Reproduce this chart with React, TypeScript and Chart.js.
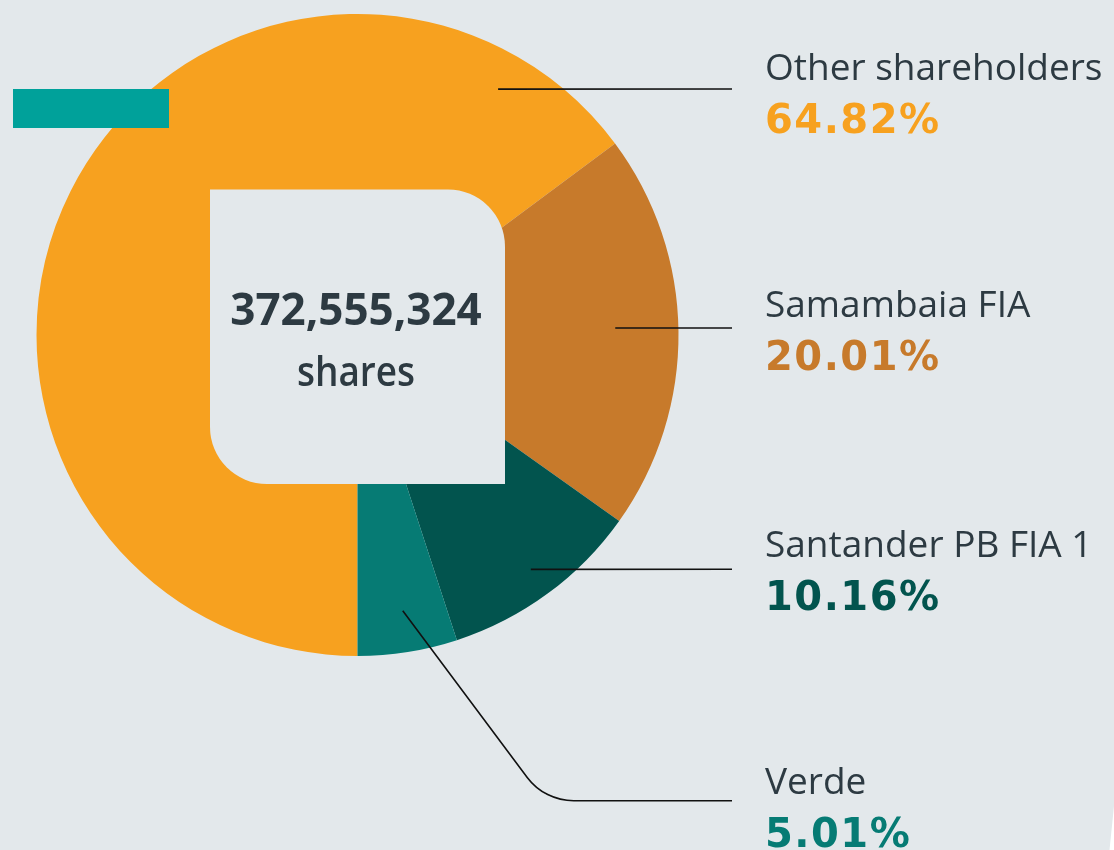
import React, { useEffect, useRef } from "react";
import { Chart, registerables } from "chart.js";

Chart.register(...registerables);

const categories = ["Other shareholders", "Samambaia FIA", "Santander PB FIA 1", "Verde"];
const sharePct = [64.82, 20.01, 10.16, 5.01];
const sliceColors = ["#f7a11f", "#c77a2b", "#02544e", "#067b74"];
const totalShares = "372,555,324";
const totalUnit = "shares";

const BG = "#e3e8eb";
const TEXT = "#2d3a42";

// label layout (name baseline, percent baseline)
const nameBaselines = [79.5, 317, 557, 793.5];
const pctBaselines = [132.7, 370, 610, 847];
// leader anchors as fractions of radius from pie centre, and the y of the horizontal run
const anchorFx = [0.438, 0.803, 0.54, 0.141];
const anchorFy = [-0.766, -0.022, 0.73, 0.859];
const lineY = [89, 328, 569.3, 800.7];

const decorPlugin = {
  id: "decor",
  afterDatasetsDraw(chart: any) {
    const ctx = chart.ctx;
    const arc = chart.getDatasetMeta(0).data[0];
    const cx = arc.x;
    const cy = arc.y;
    const R = arc.outerRadius;
    ctx.save();
    // centre rounded square
    ctx.fillStyle = BG;
    ctx.beginPath();
    (ctx as any).roundRect(cx - 147.5, cy - 145.5, 295, 294.5, [0, 57, 0, 57]);
    ctx.fill();
    // leader lines
    ctx.strokeStyle = "#111111";
    ctx.lineWidth = 1.6;
    const endX = 732;
    for (let i = 0; i < categories.length; i++) {
      const sx = cx + anchorFx[i] * R;
      const sy = cy + anchorFy[i] * R;
      ctx.beginPath();
      ctx.moveTo(sx, sy);
      if (Math.abs(sy - lineY[i]) < 3) {
        ctx.lineTo(endX, lineY[i]);
      } else {
        const slope = (770 - sy) / (521.7 - sx);
        const cornerX = sx + (lineY[i] - sy) / slope;
        ctx.arcTo(cornerX, lineY[i], endX, lineY[i], 58);
        ctx.lineTo(endX, lineY[i]);
      }
      ctx.stroke();
    }
    // white page corner sliver
    ctx.fillStyle = "#ffffff";
    ctx.beginPath();
    ctx.moveTo(1114, 806);
    ctx.lineTo(1109.5, 850);
    ctx.lineTo(1114, 850);
    ctx.closePath();
    ctx.fill();
    ctx.restore();
  },
};

function Txt(props: {
  x: number;
  base: number;
  size: number;
  family: string;
  weight: number;
  color: string;
  k: number;
  center?: boolean;
  ls?: number;
  sx?: number;
  children: any;
}) {
  const { x, base, size, family, weight, color, k, center, ls, sx, children } = props;
  return (
    <div
      style={{
        position: "absolute",
        left: x,
        top: base - k * size,
        fontFamily: family,
        fontWeight: weight,
        fontSize: size,
        lineHeight: "1",
        color,
        whiteSpace: "nowrap",
        letterSpacing: ls ? ls + "px" : undefined,
        transform: center ? `translateX(-50%) scaleX(${sx ?? 1})` : undefined,
        transformOrigin: "center",
      }}
    >
      {children}
    </div>
  );
}

export default function App() {
  const ref = useRef<HTMLCanvasElement | null>(null);
  useEffect(() => {
    document.body.style.margin = "0";
    const chart = new Chart(ref.current as HTMLCanvasElement, {
      type: "pie",
      data: {
        labels: categories,
        datasets: [
          {
            data: sharePct,
            backgroundColor: sliceColors,
            borderWidth: 0,
          },
        ],
      },
      options: {
        responsive: false,
        animation: false,
        devicePixelRatio: 1,
        rotation: 180,
        layout: { padding: { left: 36.5, right: 435.5, top: 14, bottom: 194 } },
        plugins: { legend: { display: false }, tooltip: { enabled: false } },
        events: [],
      },
      plugins: [decorPlugin],
    } as any);
    return () => chart.destroy();
  }, []);

  const OS = "'Open Sans', 'Noto Sans', sans-serif";
  const DJ = "'DejaVu Sans', Verdana, sans-serif";

  return (
    <div style={{ position: "fixed", left: 0, top: 0, width: 1114, height: 850, background: BG, overflow: "hidden" }}>
      <canvas ref={ref} width={1114} height={850} style={{ position: "absolute", left: 0, top: 0 }} />
      <div style={{ position: "absolute", left: 13, top: 89, width: 156, height: 39, background: "#00a19a" }} />
      <Txt x={356} base={325} size={44} family={OS} weight={700} color={TEXT} k={0.888} center>
        {totalShares}
      </Txt>
      <Txt x={356} base={386} size={42} family={OS} weight={600} color={TEXT} k={0.888} center sx={0.88}>
        {totalUnit}
      </Txt>
      {categories.map((c, i) => (
        <React.Fragment key={c}>
          <Txt x={765} base={nameBaselines[i]} size={37} family={OS} weight={400} color={TEXT} k={0.888}>
            {c}
          </Txt>
          <Txt x={765} base={pctBaselines[i]} size={40} family={DJ} weight={700} color={sliceColors[i]} k={0.846} ls={1.5}>
            {sharePct[i].toFixed(2) + "%"}
          </Txt>
        </React.Fragment>
      ))}
    </div>
  );
}
